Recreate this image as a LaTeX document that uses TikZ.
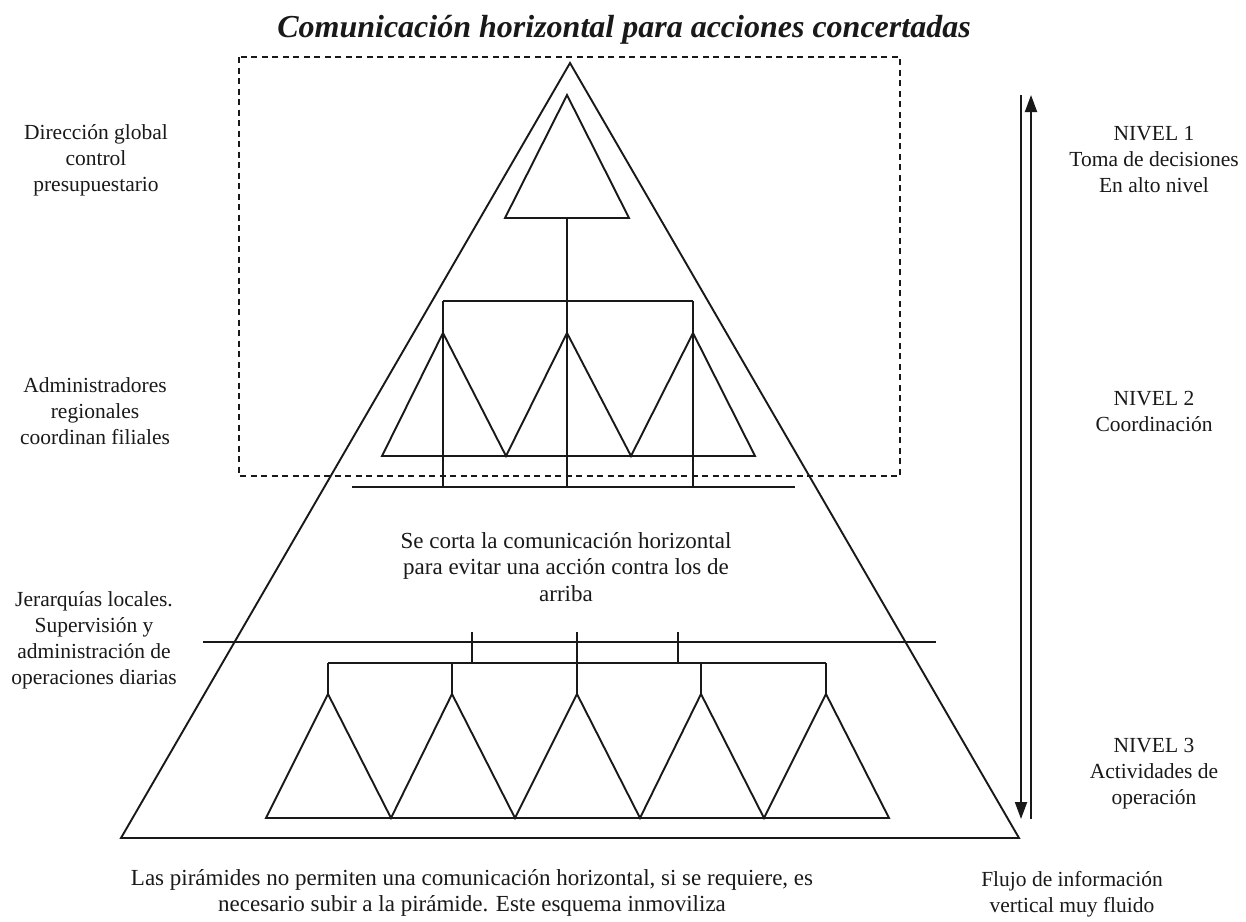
\documentclass[tikz,border=0pt]{standalone}
\usepackage{fontspec}
\setmainfont{Liberation Serif}
\usetikzlibrary{arrows.meta}
\begin{document}
\begin{tikzpicture}[x=1pt,y=-1pt,
  ln/.style={line width=1.9pt,draw=black!90,line join=miter},
  dashbox/.style={line width=1.9pt,draw=black!90,dash pattern=on 6pt off 4.5pt},
  flow/.style={line width=1.9pt,draw=black!90,-{Triangle[length=17pt,width=12pt]}},
  lbl/.style={font=\fontsize{21.5}{26}\selectfont,align=center,text=black!90,inner sep=0pt},
  big/.style={lbl,font=\fontsize{23}{26.5}\selectfont},
  ttl/.style={font=\fontsize{32}{36}\selectfont\bfseries\itshape,text=black!90,inner sep=0pt}]
\useasboundingbox (0,0) rectangle (1246,921);
\fill[white] (0,0) rectangle (1246,921);

% title
\node[ttl] (title) at (624,30) {Comunicación horizontal para acciones concertadas};

% outer pyramid
\coordinate (apex) at (570,63);
\coordinate (baseR) at (1019,838);
\coordinate (baseL) at (121,838);
\draw[ln] (apex) -- (baseR) -- (baseL) -- cycle;

% dashed frame around the upper levels
\draw[dashbox] (239,57) rectangle (900,476);

% level 1: top triangle and its trunk
\coordinate (t1) at (567,95);
\coordinate (t1b) at (567,218);
\draw[ln] (t1) -- (629,218) -- (505,218) -- cycle;
\draw[ln] (t1b) -- (567,487);

% level 2: branch bar and three triangles
\draw[ln] (443,301) -- (693,301);
\draw[ln] (443,301) -- (443,487);
\draw[ln] (693,301) -- (693,487);
\draw[ln] (382,456) -- (443,333) -- (506,456) -- (567,333) -- (631,456)
          -- (693,333) -- (755,456) -- cycle;
\draw[ln] (352,487) -- (795,487);

% cut line and level 3
\draw[ln] (203,642) -- (936,642);
\foreach \x in {472,678} \draw[ln] (\x,632) -- (\x,663);
\draw[ln] (577,632) -- (577,694);
\draw[ln] (328,663) -- (826,663);
\foreach \x in {328,452,701,826} \draw[ln] (\x,663) -- (\x,694);
\draw[ln] (266,818) -- (328,694) -- (391,818) -- (452,694) -- (515,818)
          -- (577,694) -- (640,818) -- (701,694) -- (764,818) -- (826,694)
          -- (889,818) -- cycle;

% vertical information flow
\coordinate (dnTop) at (1021,95);
\coordinate (dnEnd) at (1021,819);
\coordinate (upBot) at (1031,819);
\coordinate (upEnd) at (1031,95);
\draw[flow] (dnTop) -- (dnEnd);
\draw[flow] (upBot) -- (upEnd);

% left labels
\node[lbl] (l1) at (96,160) {Dirección global\\control\\presupuestario};
\node[lbl] (l2) at (95,411) {Administradores\\regionales\\coordinan filiales};
\node[lbl] (l3) at (94,640) {Jerarquías locales.\\Supervisión y\\administración de\\operaciones diarias};

% centre label
\node[big] (mid) at (566,567) {Se corta la comunicación horizontal\\para evitar una acción contra los de\\arriba};

% right labels
\node[lbl] (n1) at (1154,160) {NIVEL 1\\Toma de decisiones\\En alto nivel};
\node[lbl] (n2) at (1154,411) {NIVEL 2\\Coordinación};
\node[lbl] (n3) at (1154,774) {NIVEL 3\\Actividades de\\operación};

% bottom notes
\node[big] (foot) at (472,893) {Las pirámides no permiten una comunicación horizontal, si se requiere, es\\necesario subir a la pirámide. Este esquema inmoviliza};
\node[lbl] (flujo) at (1072,894) {Flujo de información\\vertical muy fluido};
\end{tikzpicture}
\end{document}
